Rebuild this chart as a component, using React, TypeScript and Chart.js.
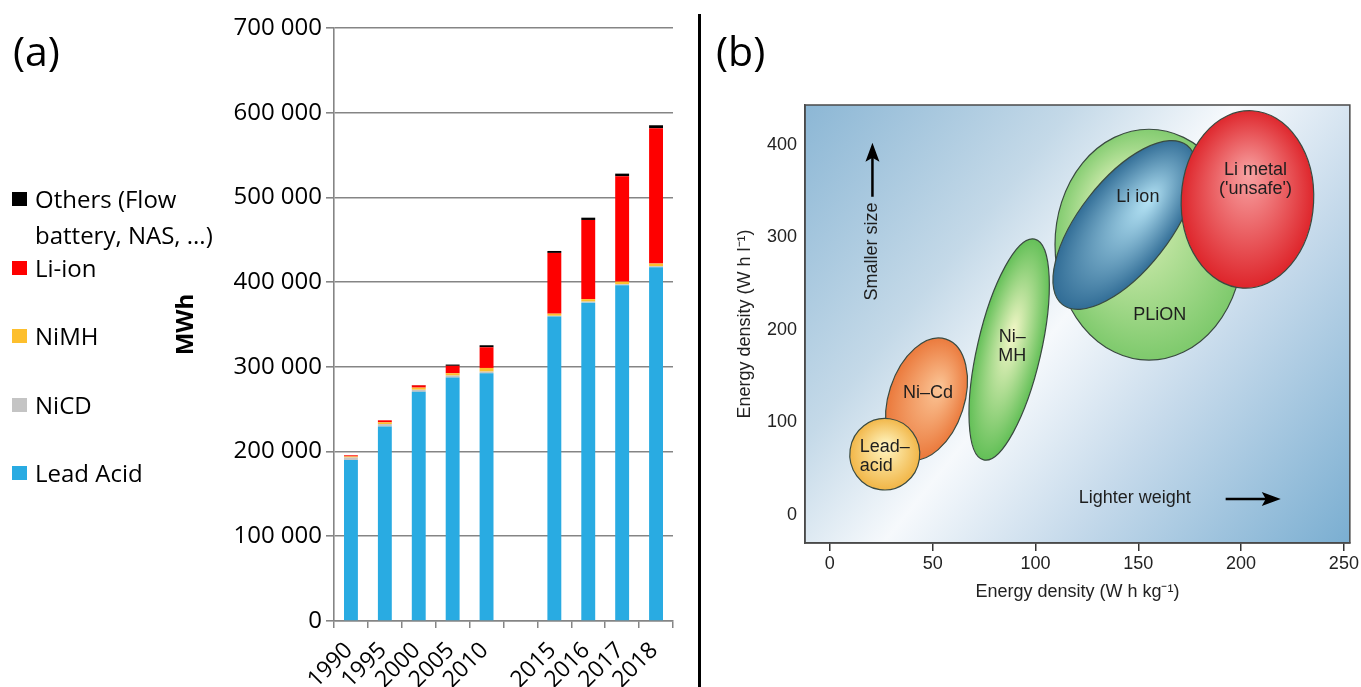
import React, { useEffect, useRef } from 'react';
import { Chart, registerables } from 'chart.js';

Chart.register(...registerables);

// ---------------- Panel (a): storage capacity, MWh ----------------
const years = ['1990', '1995', '2000', '2005', '2010', '', '2015', '2016', '2017', '2018'];
const leadAcid = [190000, 229500, 270500, 287300, 292400, null, 359300, 375800, 396300, 417600];
const niCd = [3000, 3000, 2500, 2400, 2000, null, 1000, 1200, 1300, 1300];
const niMH = [1200, 2000, 2500, 2800, 4300, null, 2500, 3000, 3000, 3000];
const liIon = [1400, 2400, 2700, 8700, 24400, null, 71700, 93400, 124400, 159800];
const others = [0, 0, 300, 1500, 2400, null, 2300, 2700, 3100, 3500];
const seriesNames = ['Lead Acid', 'NiCD', 'NiMH', 'Li-ion', 'Others (Flow battery, NAS, ...)'];
const seriesValues = [leadAcid, niCd, niMH, liIon, others];
const seriesColors = ['#29abe2', '#c4c4c4', '#fdbf2d', '#fe0000', '#000000'];
const mwhTicks = [0, 100000, 200000, 300000, 400000, 500000, 600000, 700000];

// ---------------- Panel (b): energy density map ----------------
const techNames = ['Ni–Cd', 'Lead–acid', 'Ni–MH', 'PLiON', 'Li ion', 'Li metal'];
const techGravCenter = [47, 26.7, 87.2, 155.2, 143.4, 203.1]; // W h/kg
const techVolCenter = [125.4, 65.7, 178.9, 292.2, 313.5, 341.1]; // W h/l
const techGravHalfSpread = [18.4, 17, 15.5, 45.7, 22.1, 32.2];
const techVolHalfSpread = [68.1, 38.7, 122.5, 124.8, 109.3, 96];
const techTiltDeg = [18, 8, 13, 0, 38, 3];
const techLabelLines = [['Ni–Cd'], ['Lead–', 'acid'], ['Ni–', 'MH'], ['PLiON'], ['Li ion'], ['Li metal', "('unsafe')"]];
const techLabelGrav = [47.7, 14.5, 88.7, 160.4, 149.8, 207];
const techLabelVol = [131.6, 73.3, 192.4, 216.2, 344.1, 373];
const techLabelAlign = ['center', 'left', 'center', 'center', 'center', 'center'];
const techInner = ['#fbc596', '#fff7c4', '#f4f7c8', '#eef7c6', '#b4e3f5', '#f8a3a3'];
const techOuter = ['#ea7638', '#f1b342', '#5cbd52', '#7ac869', '#2c6892', '#dd2026'];
const techHighlight = [[0.25, -0.25], [0, -0.25], [0, -0.15], [-0.35, -0.45], [0.1, -0.35], [0, -0.3]];
const gravTicks = [0, 50, 100, 150, 200, 250];
const volTicks = [0, 100, 200, 300, 400];

const fmtSpace = (v: number) => String(v).replace(/\B(?=(\d{3})+(?!\d))/g, ' ');

const FONT_B = 'Liberation Sans';

const mapPlugin = {
  id: 'energyMap',
  beforeDraw(chart: any) {
    const { ctx, chartArea: a } = chart;
    const g = ctx.createLinearGradient(a.left, a.top, a.right, a.bottom);
    g.addColorStop(0, '#8cb7d5');
    g.addColorStop(0.3, '#c4d9e8');
    g.addColorStop(0.48, '#f6f9fc');
    g.addColorStop(0.68, '#c6daeb');
    g.addColorStop(1, '#7aaed1');
    ctx.save();
    ctx.fillStyle = g;
    ctx.fillRect(a.left, a.top, a.right - a.left, a.bottom - a.top);
    ctx.restore();
  },
  afterDatasetsDraw(chart: any) {
    const { ctx, chartArea: a } = chart;
    const xs = chart.scales.x;
    const ys = chart.scales.y;
    ctx.save();
    ctx.beginPath();
    ctx.rect(a.left, a.top, a.right - a.left, a.bottom - a.top);
    ctx.clip();
    for (let i = 0; i < techNames.length; i++) {
      const cx = xs.getPixelForValue(techGravCenter[i]);
      const cy = ys.getPixelForValue(techVolCenter[i]);
      const rx = Math.abs(xs.getPixelForValue(techGravCenter[i] + techGravHalfSpread[i]) - cx);
      const ry = Math.abs(ys.getPixelForValue(techVolCenter[i] + techVolHalfSpread[i]) - cy);
      const rot = (techTiltDeg[i] * Math.PI) / 180;
      ctx.save();
      ctx.translate(cx, cy);
      ctx.rotate(rot);
      ctx.scale(rx, ry);
      const [hx, hy] = techHighlight[i];
      const grad = ctx.createRadialGradient(hx, hy, 0, 0, 0, 1.05);
      grad.addColorStop(0, techInner[i]);
      grad.addColorStop(1, techOuter[i]);
      ctx.beginPath();
      ctx.arc(0, 0, 1, 0, Math.PI * 2);
      ctx.fillStyle = grad;
      ctx.fill();
      ctx.restore();
      ctx.beginPath();
      ctx.ellipse(cx, cy, rx, ry, rot, 0, Math.PI * 2);
      ctx.strokeStyle = '#3a4a40';
      ctx.lineWidth = 1.2;
      ctx.stroke();
    }
    // labels
    ctx.fillStyle = '#1e1e1e';
    ctx.font = `18px "${FONT_B}"`;
    ctx.textBaseline = 'middle';
    for (let i = 0; i < techNames.length; i++) {
      const x = xs.getPixelForValue(techLabelGrav[i]);
      const y0 = ys.getPixelForValue(techLabelVol[i]);
      ctx.textAlign = techLabelAlign[i] as CanvasTextAlign;
      techLabelLines[i].forEach((line, k) => ctx.fillText(line, x, y0 + k * 19));
    }
    // "Smaller size" arrow
    const sx = xs.getPixelForValue(20.7);
    const sy0 = ys.getPixelForValue(344.1);
    const sy1 = ys.getPixelForValue(402.5);
    ctx.strokeStyle = '#000';
    ctx.fillStyle = '#000';
    ctx.lineWidth = 2.5;
    ctx.beginPath();
    ctx.moveTo(sx, sy0);
    ctx.lineTo(sx, sy1 + 14);
    ctx.stroke();
    ctx.beginPath();
    ctx.moveTo(sx, sy1);
    ctx.lineTo(sx - 7, sy1 + 19);
    ctx.lineTo(sx, sy1 + 15);
    ctx.lineTo(sx + 7, sy1 + 19);
    ctx.closePath();
    ctx.fill();
    ctx.save();
    ctx.translate(sx, ys.getPixelForValue(284.9));
    ctx.rotate(-Math.PI / 2);
    ctx.textAlign = 'center';
    ctx.fillStyle = '#1e1e1e';
    ctx.fillText('Smaller size', 0, 0);
    ctx.restore();
    // "Lighter weight" arrow
    const wy = ys.getPixelForValue(17.3);
    const wx0 = xs.getPixelForValue(192.5);
    const wx1 = xs.getPixelForValue(219.3);
    ctx.fillStyle = '#000';
    ctx.beginPath();
    ctx.moveTo(wx0, wy);
    ctx.lineTo(wx1 - 14, wy);
    ctx.stroke();
    ctx.beginPath();
    ctx.moveTo(wx1, wy);
    ctx.lineTo(wx1 - 19, wy - 7);
    ctx.lineTo(wx1 - 15, wy);
    ctx.lineTo(wx1 - 19, wy + 7);
    ctx.closePath();
    ctx.fill();
    ctx.textAlign = 'center';
    ctx.fillStyle = '#1e1e1e';
    ctx.fillText('Lighter weight', xs.getPixelForValue(148.3), ys.getPixelForValue(18.4));
    ctx.restore();
    // frame
    ctx.save();
    ctx.strokeStyle = '#4a4a4a';
    ctx.lineWidth = 1.5;
    ctx.strokeRect(a.left, a.top, a.right - a.left, a.bottom - a.top);
    ctx.restore();
  },
};

export default function App() {
  const refA = useRef<HTMLCanvasElement>(null);
  const refB = useRef<HTMLCanvasElement>(null);

  useEffect(() => {
    const gridGray = '#858585';
    const chartA = new Chart(refA.current as HTMLCanvasElement, {
      type: 'bar',
      data: {
        labels: years,
        datasets: seriesNames.map((name, i) => ({
          label: name,
          data: seriesValues[i],
          backgroundColor: seriesColors[i],
          borderWidth: 0,
          barPercentage: 0.41,
          categoryPercentage: 1,
        })),
      },
      options: {
        animation: false,
        responsive: false,
        events: [],
        layout: { padding: { left: 0, right: 25, top: 28, bottom: 0 } },
        plugins: { legend: { display: false }, tooltip: { enabled: false } },
        scales: {
          x: {
            stacked: true,
            grid: { display: true, drawOnChartArea: false, drawTicks: true, tickLength: 7, color: gridGray, lineWidth: 1.5, offset: true },
            border: { display: true, color: gridGray, width: 1.5 },
            ticks: {
              minRotation: 45,
              maxRotation: 45,
              autoSkip: false,
              font: { family: 'Open Sans', size: 23 },
              color: '#000',
              padding: 9,
              labelOffset: -2,
            },
            afterFit: (s: any) => {
              s.height = 66;
            },
          },
          y: {
            stacked: true,
            min: 0,
            max: 700000,
            afterBuildTicks: (s: any) => {
              s.ticks = mwhTicks.map((v) => ({ value: v }));
            },
            ticks: {
              callback: (v: any) => fmtSpace(Number(v)),
              font: { family: 'Open Sans', size: 24 },
              color: '#000',
              padding: 4,
            },
            grid: { color: gridGray, lineWidth: 1.6, tickLength: 8 },
            border: { display: true, color: gridGray, width: 1.6 },
            title: {
              display: true,
              text: 'MWh',
              font: { family: 'Open Sans', size: 24, weight: 'bold' },
              color: '#000',
              padding: { top: 172, bottom: 0 },
            },
            afterFit: (s: any) => {
              s.width = 334;
            },
          },
        },
      } as any,
    });

    const chartB = new Chart(refB.current as HTMLCanvasElement, {
      type: 'scatter',
      data: {
        datasets: [
          {
            label: 'Battery technologies',
            data: techNames.map((_, i) => ({ x: techGravCenter[i], y: techVolCenter[i] })),
            pointRadius: 0,
            pointHoverRadius: 0,
          },
        ],
      },
      options: {
        animation: false,
        responsive: false,
        events: [],
        layout: { padding: { left: 0, right: 9, top: 105, bottom: 84 } },
        plugins: { legend: { display: false }, tooltip: { enabled: false } },
        scales: {
          x: {
            type: 'linear',
            min: -12.1,
            max: 252.9,
            afterBuildTicks: (s: any) => {
              s.ticks = gravTicks.map((v) => ({ value: v }));
            },
            grid: { drawOnChartArea: false, drawTicks: true, tickLength: 8, color: '#333', lineWidth: 1.5 },
            border: { display: true, color: '#4a4a4a', width: 1.5 },
            ticks: { font: { family: FONT_B, size: 18 }, color: '#222', padding: 2 },
            title: {
              display: true,
              text: 'Energy density (W h kg⁻¹)',
              font: { family: FONT_B, size: 18 },
              color: '#222',
              padding: { top: 0, bottom: 0 },
            },
            afterFit: (s: any) => {
              s.height = 60;
            },
          },
          y: {
            type: 'linear',
            min: -30.3,
            max: 443.2,
            afterBuildTicks: (s: any) => {
              s.ticks = volTicks.map((v) => ({ value: v }));
            },
            grid: { drawOnChartArea: false, drawTicks: false },
            border: { display: true, color: '#4a4a4a', width: 1.5 },
            ticks: { font: { family: FONT_B, size: 18 }, color: '#222', padding: 8 },
            title: {
              display: true,
              text: 'Energy density (W h l⁻¹)',
              font: { family: FONT_B, size: 18 },
              color: '#222',
              padding: { top: 32, bottom: 0 },
            },
            afterFit: (s: any) => {
              s.width = 103;
            },
          },
        },
      } as any,
      plugins: [mapPlugin],
    });

    return () => {
      chartA.destroy();
      chartB.destroy();
    };
  }, []);

  const legendOrder = [4, 3, 2, 1, 0];

  return (
    <div
      style={{
        position: 'absolute',
        left: 0,
        top: 0,
        width: 1361,
        height: 687,
        overflow: 'hidden',
        background: '#fff',
        fontFamily: '"Open Sans", sans-serif',
        color: '#000',
      }}
    >
      <canvas
        ref={refA}
        width={698}
        height={687}
        style={{ position: 'absolute', left: 0, top: 0, width: 698, height: 687, display: 'block' }}
      />
      <canvas
        ref={refB}
        width={659}
        height={687}
        style={{ position: 'absolute', left: 702, top: 0, width: 659, height: 687, display: 'block' }}
      />
      <div style={{ position: 'absolute', left: 698, top: 14, width: 3, height: 673, background: '#000' }} />
      <div style={{ position: 'absolute', left: 13, top: 25, fontSize: 41, lineHeight: '50px' }}>(a)</div>
      <div style={{ position: 'absolute', left: 716, top: 25, fontSize: 41, lineHeight: '50px' }}>(b)</div>
      {legendOrder.map((si, k) => (
        <div key={si} style={{ position: 'absolute', left: 0, top: 181 + k * 68.5, width: 240 }}>
          <div
            style={{
              position: 'absolute',
              left: 12,
              top: 11,
              width: 15,
              height: 14,
              background: seriesColors[si],
            }}
          />
          <div style={{ position: 'absolute', left: 35, top: 0, width: 200, fontSize: 24, lineHeight: '36px' }}>
            {seriesNames[si]}
          </div>
        </div>
      ))}
    </div>
  );
}
